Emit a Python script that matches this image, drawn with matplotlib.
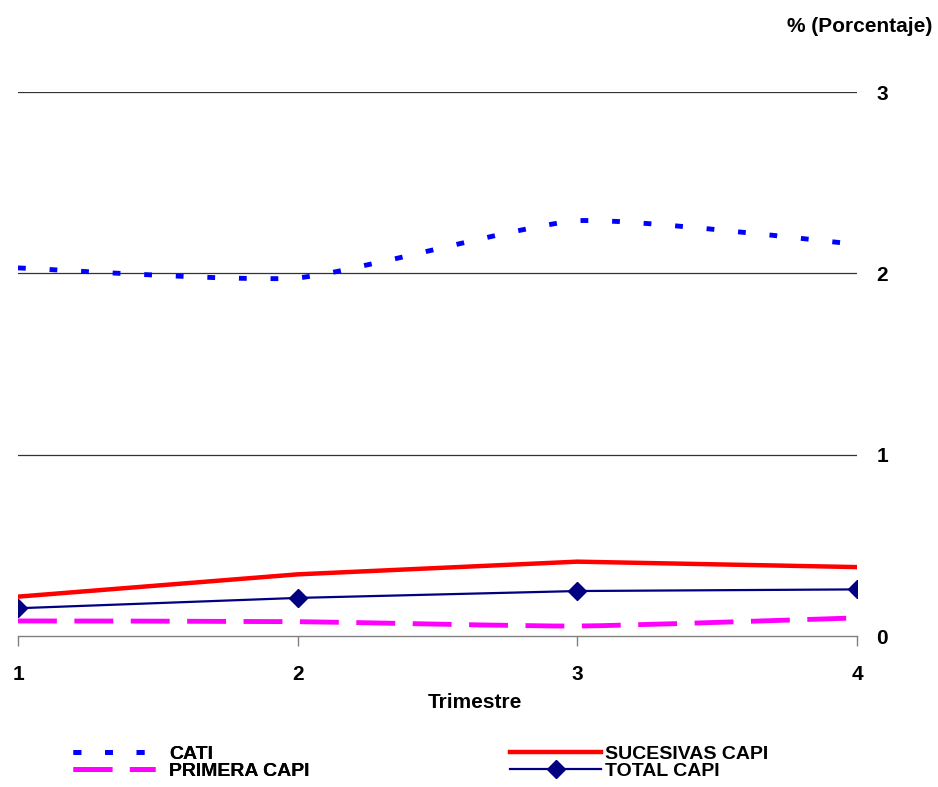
import matplotlib
matplotlib.use("Agg")
import matplotlib.pyplot as plt
from matplotlib.lines import Line2D
from matplotlib.path import Path
from matplotlib.patches import PathPatch
import numpy as np

plt.rcParams['font.family'] = ['Liberation Sans', 'DejaVu Sans']
plt.rcParams['font.weight'] = 'bold'

trimestres = [1, 2, 3, 4]
cati = [2.03, 1.975, 2.29, 2.16]
sucesivas_capi = [0.217, 0.34, 0.41, 0.38]
total_capi = [0.153, 0.21, 0.248, 0.257]
primera_capi = [0.083, 0.079, 0.055, 0.10]
y_ticks = [0, 1, 2, 3]

FS = 15
LFS = 14

fig = plt.figure(figsize=(9.38, 7.87), dpi=100)
ax = fig.add_axes([18/938, 1-636/787, (857-18)/938, (636-92)/787])


def smooth_path(xs, ys, k=0.09):
    # Bezier path through the data points (like spreadsheet line smoothing)
    xs = np.asarray(xs, float)
    ys = np.asarray(ys, float)
    n = len(xs)
    verts = [(xs[0], ys[0])]
    codes = [Path.MOVETO]
    for i in range(n - 1):
        p0 = (xs[max(i-1, 0)], ys[max(i-1, 0)])
        p1 = (xs[i], ys[i])
        p2 = (xs[i+1], ys[i+1])
        p3 = (xs[min(i+2, n-1)], ys[min(i+2, n-1)])
        c1 = (p1[0] + (p2[0]-p0[0])*k, p1[1] + (p2[1]-p0[1])*k)
        c2 = (p2[0] - (p3[0]-p1[0])*k, p2[1] - (p3[1]-p1[1])*k)
        verts += [c1, c2, p2]
        codes += [Path.CURVE4]*3
    return Path(verts, codes)

cati_style = dict(color='#0000FF', linewidth=3.5, linestyle=(0, (1.6, 4.9)))
prim_style = dict(color='#FF00FF', linewidth=3.5, linestyle=(0, (8.0, 3.6)))

ax.add_patch(PathPatch(smooth_path(trimestres, cati), fill=False,
                       edgecolor=cati_style['color'], linewidth=cati_style['linewidth'],
                       linestyle=cati_style['linestyle'], capstyle='butt', zorder=3))
ax.add_patch(PathPatch(smooth_path(trimestres, primera_capi), fill=False,
                       edgecolor=prim_style['color'], linewidth=prim_style['linewidth'],
                       linestyle=prim_style['linestyle'], capstyle='butt', zorder=3))
ax.plot(trimestres, sucesivas_capi, color='#FF0000', linewidth=3.2, zorder=3,
        solid_capstyle='round')
ax.plot(trimestres, total_capi, color='#000080', linewidth=1.6, marker='D',
        markersize=9.5, zorder=4)

ax.set_xlim(1, 4)
ax.set_ylim(0, 3)
ax.set_xticks(trimestres)
ax.set_xticklabels([str(t) for t in trimestres], fontsize=FS, fontweight='bold')
ax.set_yticks(y_ticks)
ax.set_yticklabels([str(t) for t in y_ticks], fontsize=FS, fontweight='bold')
ax.yaxis.tick_right()
ax.tick_params(axis='y', length=0, pad=14)
ax.tick_params(axis='x', direction='out', length=7, width=1, color='#808080', pad=14)

for s in ['top', 'left', 'right']:
    ax.spines[s].set_visible(False)
ax.spines['bottom'].set_color('#808080')
ax.spines['bottom'].set_linewidth(1)

for v in y_ticks[1:]:
    ax.axhline(v, color='#333333', linewidth=0.9, zorder=1)

ax.set_xlabel('Trimestre', fontsize=FS, fontweight='bold')
ax.xaxis.set_label_coords((475-18)/839, (636-693)/544)

fig.text(932/938, 1-27/787, '% (Porcentaje)', ha='right', va='center',
         fontsize=FS, fontweight='bold')

h_cati = Line2D([], [], **cati_style)
h_prim = Line2D([], [], **prim_style)
h_suc = Line2D([], [], color='#FF0000', linewidth=3.2)
h_tot = Line2D([], [], color='#000080', linewidth=1.6, marker='D', markersize=9.5)

top = 1 - 745/787
leg1 = fig.legend([h_cati, h_prim], ['CATI', 'PRIMERA CAPI'], loc='upper left',
                  bbox_to_anchor=(73/938, top), frameon=False, borderpad=0,
                  borderaxespad=0, handlelength=4.2, handletextpad=0.75,
                  labelspacing=0.0, prop={'size': LFS, 'weight': 'bold'})
fig.add_artist(leg1)
leg2 = fig.legend([h_suc, h_tot], ['SUCESIVAS CAPI', 'TOTAL CAPI'], loc='upper left',
                  bbox_to_anchor=(510/938, top), frameon=False, borderpad=0,
                  borderaxespad=0, handlelength=4.7, handletextpad=0.2,
                  labelspacing=0.0, prop={'size': LFS, 'weight': 'bold'})

fig.savefig('out.png', dpi=100)
